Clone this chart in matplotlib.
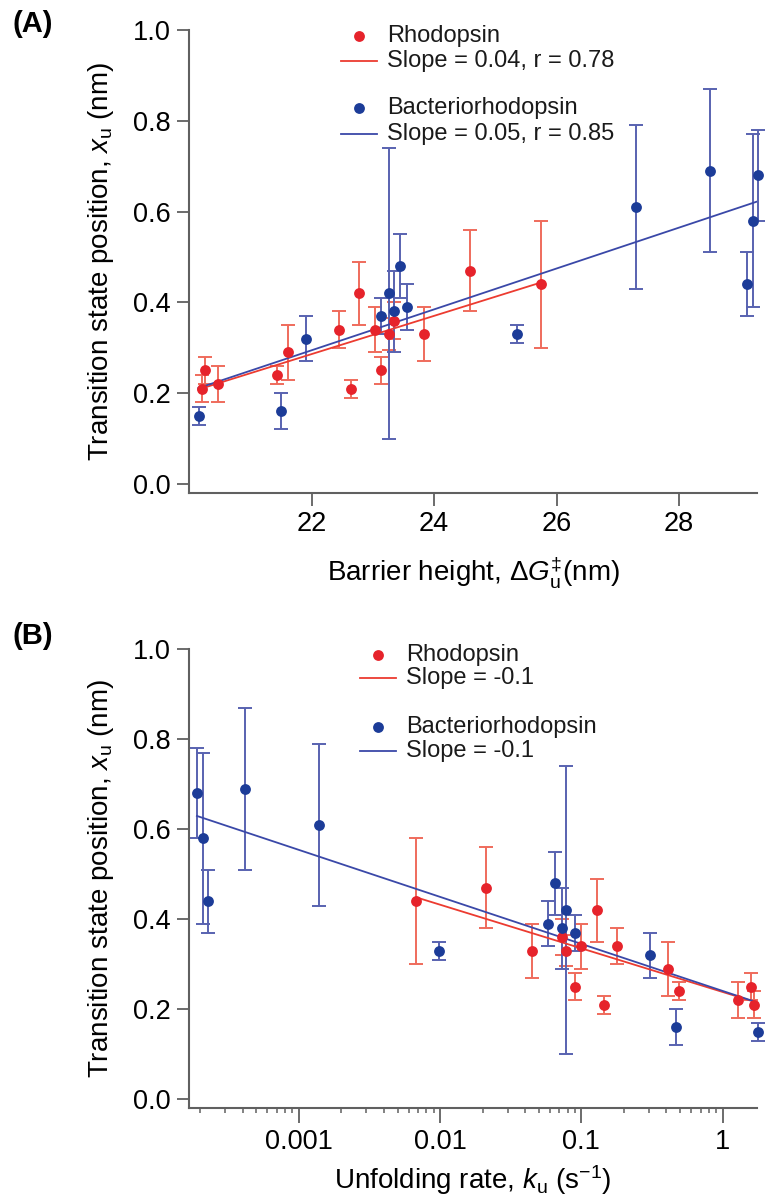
import numpy as np
import matplotlib
matplotlib.use("Agg")
import matplotlib.pyplot as plt
from matplotlib.lines import Line2D
from matplotlib.ticker import LogLocator, NullFormatter, FixedLocator, FixedFormatter

plt.rcParams['font.family'] = ['Liberation Sans', 'DejaVu Sans']
plt.rcParams['mathtext.fontset'] = 'custom'
plt.rcParams['mathtext.rm'] = 'Liberation Sans'
plt.rcParams['mathtext.it'] = 'Liberation Sans:italic'
plt.rcParams['mathtext.bf'] = 'Liberation Sans:bold'

# Rhodopsin: barrier height (A), unfolding rate (B), x_u, error
rho_dg = [20.21, 20.26, 20.48, 21.43, 21.62, 22.45, 22.64, 22.78, 23.04, 23.14, 23.27, 23.34, 23.84, 24.59, 25.75]
rho_ku = [1.67, 1.58, 1.28, 0.493, 0.407, 0.18, 0.145, 0.129, 0.10, 0.09, 0.078, 0.073, 0.045, 0.021, 0.0068]
rho_xu = [0.21, 0.25, 0.22, 0.24, 0.29, 0.34, 0.21, 0.42, 0.34, 0.25, 0.33, 0.36, 0.33, 0.47, 0.44]
rho_err = [0.03, 0.03, 0.04, 0.02, 0.06, 0.04, 0.02, 0.07, 0.05, 0.03, 0.035, 0.04, 0.06, 0.09, 0.14]

# Bacteriorhodopsin
br_dg = [20.16, 21.50, 21.91, 23.13, 23.26, 23.34, 23.45, 23.56, 25.36, 27.30, 28.50, 29.10, 29.20, 29.29]
br_ku = [1.79, 0.467, 0.305, 0.0897, 0.078, 0.073, 0.0655, 0.058, 0.0099, 0.0014, 0.000419, 0.000228, 0.00021, 0.00019]
br_xu = [0.15, 0.16, 0.32, 0.37, 0.42, 0.38, 0.48, 0.39, 0.33, 0.61, 0.69, 0.44, 0.58, 0.68]
br_err = [0.02, 0.04, 0.05, 0.04, 0.32, 0.09, 0.07, 0.05, 0.02, 0.18, 0.18, 0.07, 0.19, 0.10]

# fit line end points
rho_fitA_x = [20.15, 25.75]
rho_fitA_y = [0.208, 0.444]
br_fitA_x = [20.15, 29.27]
br_fitA_y = [0.211, 0.622]
rho_fitB_x = [0.0068, 1.72]
rho_fitB_y = [0.448, 0.215]
br_fitB_x = [0.00019, 1.74]
br_fitB_y = [0.629, 0.215]

red = '#e6232b'
red_bar = '#ef6b5c'
red_line = '#ec3b30'
blue = '#1c3c98'
blue_bar = '#5862b0'
blue_line = '#3a48a8'
axcol = '#606060'

W, H = 765, 1199
fig = plt.figure(figsize=(W / 100, H / 100), dpi=100)
axA = fig.add_axes([189 / W, 1 - 493 / H, 568 / W, 463 / H])
axB = fig.add_axes([189 / W, 1 - 1108 / H, 568 / W, 459 / H])


def style(ax):
    for s in ['top', 'right']:
        ax.spines[s].set_visible(False)
    for s in ['left', 'bottom']:
        ax.spines[s].set_color(axcol)
        ax.spines[s].set_linewidth(1.5)
    ax.tick_params(which='major', direction='out', length=9, width=1.3, color=axcol, labelsize=19.5, pad=4)
    ax.tick_params(which='minor', direction='out', length=3.5, width=1.1, color=axcol)
    ax.set_ylim(-0.02, 1.0)
    ax.set_yticks([0.0, 0.2, 0.4, 0.6, 0.8, 1.0])
    ax.set_yticklabels(['0.0', '0.2', '0.4', '0.6', '0.8', '1.0'])
    ax.set_ylabel(r"Transition state position, $x_{\mathrm{u}}$ (nm)", fontsize=20, labelpad=12)


def draw(ax, xr, xb, fit):
    ax.errorbar(xr, rho_xu, yerr=rho_err, fmt='none', ecolor=red_bar, elinewidth=1.4,
                capsize=5, capthick=1.4, zorder=2, clip_on=False)
    ax.errorbar(xb, br_xu, yerr=br_err, fmt='none', ecolor=blue_bar, elinewidth=1.4,
                capsize=5, capthick=1.4, zorder=2, clip_on=False)
    ax.plot(fit[0], fit[1], color=red_line, lw=1.3, zorder=3)
    ax.plot(fit[2], fit[3], color=blue_line, lw=1.3, zorder=3)
    ax.plot(xr, rho_xu, 'o', color=red, ms=7.8, mec='none', zorder=4, clip_on=False)
    ax.plot(xb, br_xu, 'o', color=blue, ms=7.8, mec='none', zorder=4, clip_on=False)


def legend(x0, rows, lab1, lab2):
    # x0: left of line handle in px, rows: y of the four rows in px
    fx = lambda p: p / W
    fy = lambda p: 1 - p / H
    items = [('dot', red, 'Rhodopsin'), ('line', red_line, lab1),
             ('dot', blue, 'Bacteriorhodopsin'), ('line', blue_line, lab2)]
    for (kind, c, txt), y in zip(items, rows):
        if kind == 'dot':
            fig.add_artist(Line2D([fx(x0 + 18)], [fy(y)], marker='o', ls='none', color=c,
                                  ms=7.8, mec='none'))
        else:
            fig.add_artist(Line2D([fx(x0), fx(x0 + 36)], [fy(y), fy(y)], color=c, lw=1.3))
        fig.text(fx(x0 + 46), fy(y), txt, fontsize=17, va='center', ha='left', color='#1a1a1a')


# Panel A
style(axA)
draw(axA, rho_dg, br_dg, [rho_fitA_x, rho_fitA_y, br_fitA_x, br_fitA_y])
axA.set_xlim(20.0, 29.27)
axA.set_xticks([22, 24, 26, 28])
axA.set_xlabel(r"Barrier height, $\Delta G_{\mathrm{u}}^{\ddagger}$(nm)", fontsize=20, labelpad=12)
legend(341, [36, 61, 108, 134], 'Slope = 0.04, r = 0.78', 'Slope = 0.05, r = 0.85')

# Panel B
style(axB)
draw(axB, rho_ku, br_ku, [rho_fitB_x, rho_fitB_y, br_fitB_x, br_fitB_y])
axB.set_xscale('log')
axB.set_xlim(1.67e-4, 1.75)
axB.xaxis.set_major_locator(FixedLocator([0.001, 0.01, 0.1, 1]))
axB.xaxis.set_major_formatter(FixedFormatter(['0.001', '0.01', '0.1', '1']))
axB.xaxis.set_minor_locator(LogLocator(base=10, subs=np.arange(2, 10), numticks=20))
axB.xaxis.set_minor_formatter(NullFormatter())
axB.tick_params(axis='x', which='major', length=11)
axB.set_xlabel(r"Unfolding rate, $k_{\mathrm{u}}$ (s$^{\mathrm{-1}}$)", fontsize=20, labelpad=6)
legend(360, [655, 678, 727, 751], 'Slope = -0.1', 'Slope = -0.1')

fig.text(12 / W, 1 - 10 / H, '(A)', fontsize=21, fontweight='bold', va='top')
fig.text(12 / W, 1 - 622 / H, '(B)', fontsize=21, fontweight='bold', va='top')

fig.savefig('out.png', dpi=100)
